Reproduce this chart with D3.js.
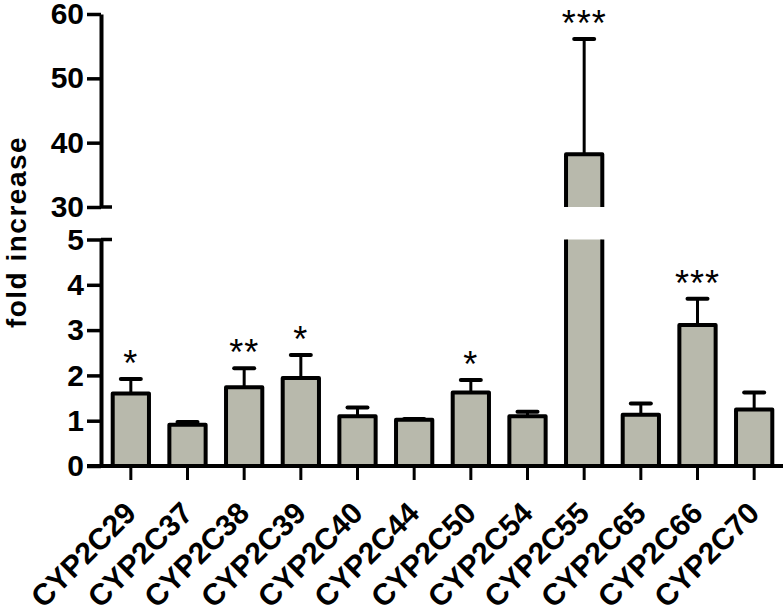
<!DOCTYPE html>
<html>
<head>
<meta charset="utf-8">
<script src="https://cdn.jsdelivr.net/npm/d3@7"></script>
<style>
  body { margin: 0; background: #fff; }
  svg { display: block; }
  text { font-family: "Liberation Sans", Arial, sans-serif; }
</style>
</head>
<body>
<svg id="chart" width="783" height="616"></svg>
<script>
const categories = ["CYP2C29","CYP2C37","CYP2C38","CYP2C39","CYP2C40","CYP2C44","CYP2C50","CYP2C54","CYP2C55","CYP2C65","CYP2C66","CYP2C70"];
const values     = [1.60, 0.91, 1.74, 1.94, 1.10, 1.02, 1.62, 1.10, 38.2, 1.13, 3.11, 1.25];
const errorTops  = [1.92, 0.97, 2.16, 2.45, 1.29, 1.04, 1.90, 1.20, 56.1, 1.38, 3.69, 1.62];
const stars      = ["*", "", "**", "*", "", "", "*", "", "***", "", "***", ""];
const lowerTicks = [0, 1, 2, 3, 4, 5];
const upperTicks = [30, 40, 50, 60];
const yTitle = "fold increase";

const svg = d3.select("#chart");
const axisX = 101;
const fill = "#b8b9ac";

const x = d3.scaleBand().domain(categories).range([102.5, 782.5]).paddingInner(0.36).paddingOuter(0.18);
const yLow = d3.scaleLinear().domain([0, 5]).range([466, 239.5]);
const yUp = d3.scaleLinear().domain([30, 60]).range([207, 14]);

function yv(v) { return v <= 5 ? yLow(v) : yUp(v); }

const data = categories.map((c, i) => ({ c, v: values[i], e: errorTops[i], s: stars[i] }));

const g = svg.append("g");

data.forEach(d => {
  const x0 = x(d.c), w = x.bandwidth();
  if (d.v <= 5) {
    g.append("rect").attr("x", x0).attr("y", yLow(d.v)).attr("width", w)
      .attr("height", yLow(0) - yLow(d.v)).attr("fill", fill)
      .attr("stroke", "#000").attr("stroke-width", 4).attr("stroke-linejoin", "round");
  } else {
    g.append("rect").attr("x", x0).attr("y", yLow(5)).attr("width", w)
      .attr("height", yLow(0) - yLow(5)).attr("fill", fill);
    g.append("path").attr("d", `M${x0},${yLow(5)}V${yLow(0)}H${x0 + w}V${yLow(5)}`)
      .attr("fill", "none").attr("stroke", "#000").attr("stroke-width", 4);
    g.append("rect").attr("x", x0).attr("y", yUp(d.v)).attr("width", w)
      .attr("height", yUp(30) - yUp(d.v)).attr("fill", fill);
    g.append("path").attr("d", `M${x0},${yUp(30)}V${yUp(d.v)}H${x0 + w}V${yUp(30)}`)
      .attr("fill", "none").attr("stroke", "#000").attr("stroke-width", 4).attr("stroke-linejoin", "round");
  }
  const cx = x0 + w / 2;
  g.append("line").attr("x1", cx).attr("x2", cx).attr("y1", yv(d.v)).attr("y2", yv(d.e))
    .attr("stroke", "#000").attr("stroke-width", 3);
  g.append("line").attr("x1", cx - 10).attr("x2", cx + 10).attr("y1", yv(d.e)).attr("y2", yv(d.e))
    .attr("stroke", "#000").attr("stroke-width", 4).attr("stroke-linecap", "round");
  if (d.s) {
    g.append("text").attr("x", cx).attr("y", yv(d.e) - 3).attr("text-anchor", "middle")
      .attr("font-size", 36).attr("letter-spacing", 1).text(d.s);
  }
});

const xAxisG = svg.append("g").attr("transform", `translate(0,${yLow(0)})`)
  .call(d3.axisBottom(x).tickSize(14).tickSizeOuter(0).tickFormat(""));
xAxisG.select(".domain").attr("d", `M${axisX - 14},0H783`).attr("stroke-width", 4);
xAxisG.selectAll(".tick line").attr("stroke-width", 3);

// x labels, rotated with a CSS transform
svg.append("g").selectAll("text").data(categories).join("text")
  .attr("text-anchor", "end")
  .attr("font-size", 30).attr("font-weight", "bold").attr("fill", "#000")
  .style("transform-box", "view-box")
  .style("transform-origin", "0px 0px")
  .style("transform", d => `translate(${x(d) + x.bandwidth() / 2 + 7}px, ${yLow(0) + 49}px) rotate(-45deg)`)
  .text(d => d);

const yLowG = svg.append("g").attr("transform", `translate(${axisX},0)`)
  .call(d3.axisLeft(yLow).tickValues(lowerTicks).tickSize(14).tickSizeOuter(0).tickFormat(d3.format("d")));
yLowG.select(".domain").attr("stroke-width", 4);
yLowG.selectAll(".tick line").attr("stroke-width", 3.5);
yLowG.selectAll(".tick text").attr("font-size", 30).attr("font-weight", "bold").attr("fill", "#000").attr("x", -17);
yLowG.append("line").attr("x1", 0).attr("x2", 11).attr("y1", yLow(5)).attr("y2", yLow(5))
  .attr("stroke", "#000").attr("stroke-width", 3.5);

const yUpG = svg.append("g").attr("transform", `translate(${axisX},0)`)
  .call(d3.axisLeft(yUp).tickValues(upperTicks).tickSize(14).tickSizeOuter(0).tickFormat(d3.format("d")));
yUpG.select(".domain").attr("stroke-width", 4).attr("stroke-linejoin", "miter");
yUpG.selectAll(".tick line").attr("stroke-width", 3.5);
yUpG.selectAll(".tick text").attr("font-size", 30).attr("font-weight", "bold").attr("fill", "#000").attr("x", -17);
yUpG.append("line").attr("x1", 0).attr("x2", 11).attr("y1", yUp(30)).attr("y2", yUp(30))
  .attr("stroke", "#000").attr("stroke-width", 3.5);

svg.append("text").attr("transform", "translate(26,232) rotate(-90)")
  .attr("text-anchor", "middle").attr("font-size", 28).attr("font-weight", "bold")
  .attr("letter-spacing", 1.5).text(yTitle);
</script>
</body>
</html>
